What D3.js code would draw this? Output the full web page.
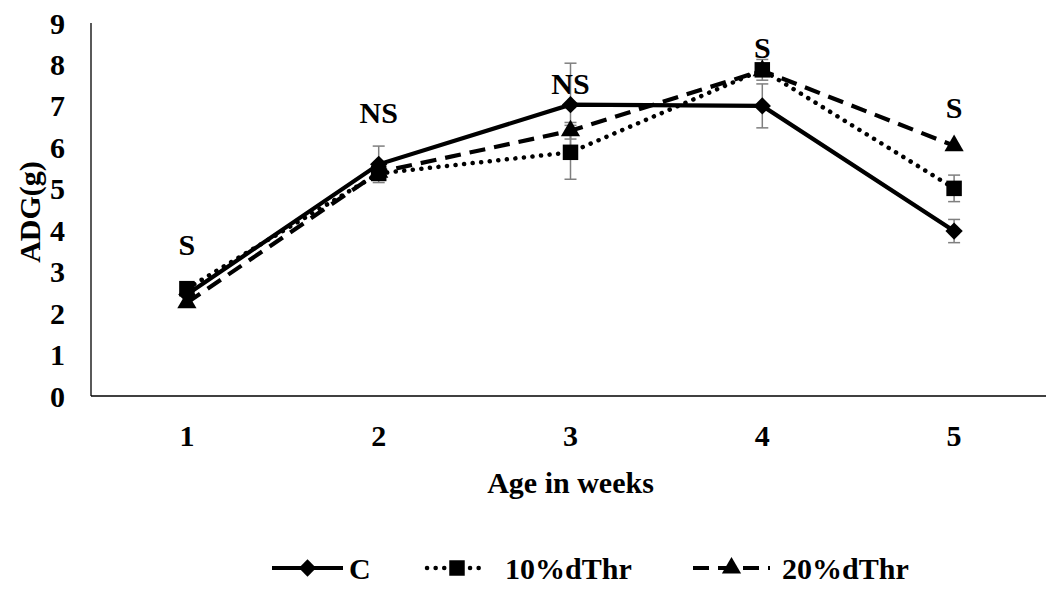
<!DOCTYPE html>
<html>
<head>
<meta charset="utf-8">
<script src="https://cdn.jsdelivr.net/npm/d3@7"></script>
<style>
  body { margin: 0; background: #fff; }
  text { font-family: "Liberation Serif", "Times New Roman", serif; font-weight: bold; }
</style>
</head>
<body>
<script>
const weeks = ["1", "2", "3", "4", "5"];
const yTicks = [0, 1, 2, 3, 4, 5, 6, 7, 8, 9];
const valuesC = [2.45, 5.59, 7.03, 7.0, 3.98];
const errC = [0, 0.44, 1.0, 0.53, 0.28];
const values10 = [2.59, 5.37, 5.88, 7.87, 5.01];
const err10 = [0, 0, 0.65, 0.25, 0.32];
const values20 = [2.25, 5.4, 6.4, 7.85, 6.04];
const err20 = [0, 0, 0.2, 0, 0];
const sigLabels = ["S", "NS", "NS", "S", "S"];
const sigValues = [3.65, 6.85, 7.55, 8.4, 6.95];

const W = 1046, H = 595;
const FS = "30px";
const svg = d3.select("body").append("svg").attr("width", W).attr("height", H);

const x = d3.scaleBand().domain(weeks).range([91, 1050]).padding(0);
const y = d3.scaleLinear().domain([0, 9]).range([396, 23]);
const cx = d => x(d) + x.bandwidth() / 2;

// axis lines
svg.append("line").attr("x1", 91).attr("x2", 91).attr("y1", y(9)).attr("y2", y(0))
  .attr("stroke", "#000").attr("stroke-width", 1.3);
svg.append("line").attr("x1", 91).attr("x2", W).attr("y1", y(0)).attr("y2", y(0))
  .attr("stroke", "#000").attr("stroke-width", 1.3);

svg.selectAll(".ytick").data(yTicks).join("text")
  .attr("x", 65).attr("y", d => y(d)).attr("dy", "0.35em")
  .attr("text-anchor", "end").style("font-size", FS).text(d => d);

svg.selectAll(".xtick").data(weeks).join("text")
  .attr("x", d => cx(d)).attr("y", 446).attr("text-anchor", "middle")
  .style("font-size", FS).text(d => d);

svg.append("text").attr("x", cx("3")).attr("y", 493).attr("text-anchor", "middle")
  .style("font-size", FS).text("Age in weeks");

svg.append("text").attr("transform", "translate(40,212) rotate(-90)")
  .attr("text-anchor", "middle").style("font-size", FS).text("ADG(g)");

const series = [
  { name: "C", vals: valuesC, err: errC, dash: null, cap: "butt", sym: d3.symbolSquare, rot: 45, size: 150, legX: 272, legW: 71, textX: 349 },
  { name: "10%dThr", vals: values10, err: err10, dash: "0.1,8.5", cap: "round", sym: d3.symbolSquare, rot: 0, size: 240, legX: 427, legW: 60, textX: 505 },
  { name: "20%dThr", vals: values20, err: err20, dash: "16,9", cap: "butt", sym: d3.symbolTriangle, rot: 0, size: 160, legX: 693, legW: 77, textX: 782 }
];

const line = d3.line().x((d, i) => cx(weeks[i])).y(d => y(d));

// error bars
series.forEach(s => {
  s.vals.forEach((v, i) => {
    const e = s.err[i];
    if (!e) return;
    const g = svg.append("g").attr("stroke", "#7f7f7f").attr("stroke-width", 1.5);
    const px = cx(weeks[i]);
    g.append("line").attr("x1", px).attr("x2", px).attr("y1", y(v + e)).attr("y2", y(v - e));
    g.append("line").attr("x1", px - 6).attr("x2", px + 6).attr("y1", y(v + e)).attr("y2", y(v + e));
    g.append("line").attr("x1", px - 6).attr("x2", px + 6).attr("y1", y(v - e)).attr("y2", y(v - e));
  });
});

series.forEach(s => {
  svg.append("path").attr("d", line(s.vals)).attr("fill", "none")
    .attr("stroke", "#000").attr("stroke-width", s.cap === "round" ? 4.5 : 4.2)
    .attr("stroke-dasharray", s.dash).attr("stroke-linecap", s.cap);
  svg.selectAll(null).data(s.vals).join("path")
    .attr("transform", (d, i) => `translate(${cx(weeks[i])},${y(d)}) rotate(${s.rot})`)
    .attr("d", d3.symbol().type(s.sym).size(s.size)).attr("fill", "#000");
});

// significance labels
svg.selectAll(".sig").data(sigLabels).join("text")
  .attr("x", (d, i) => cx(weeks[i])).attr("y", (d, i) => y(sigValues[i])).attr("dy", "0.35em")
  .attr("text-anchor", "middle").style("font-size", FS).text(d => d);

// legend
const ly = 568;
series.forEach(s => {
  svg.append("line").attr("x1", s.legX).attr("x2", s.legX + s.legW).attr("y1", ly).attr("y2", ly)
    .attr("stroke", "#000").attr("stroke-width", s.cap === "round" ? 4.5 : 4.2)
    .attr("stroke-dasharray", s.dash).attr("stroke-linecap", s.cap);
  svg.append("path").attr("transform", `translate(${s.legX + s.legW / 2},${ly}) rotate(${s.rot})`)
    .attr("d", d3.symbol().type(s.sym).size(s.size)).attr("fill", "#000");
  svg.append("text").attr("x", s.textX).attr("y", ly).attr("dy", "0.35em")
    .style("font-size", FS).text(s.name);
});
</script>
</body>
</html>
